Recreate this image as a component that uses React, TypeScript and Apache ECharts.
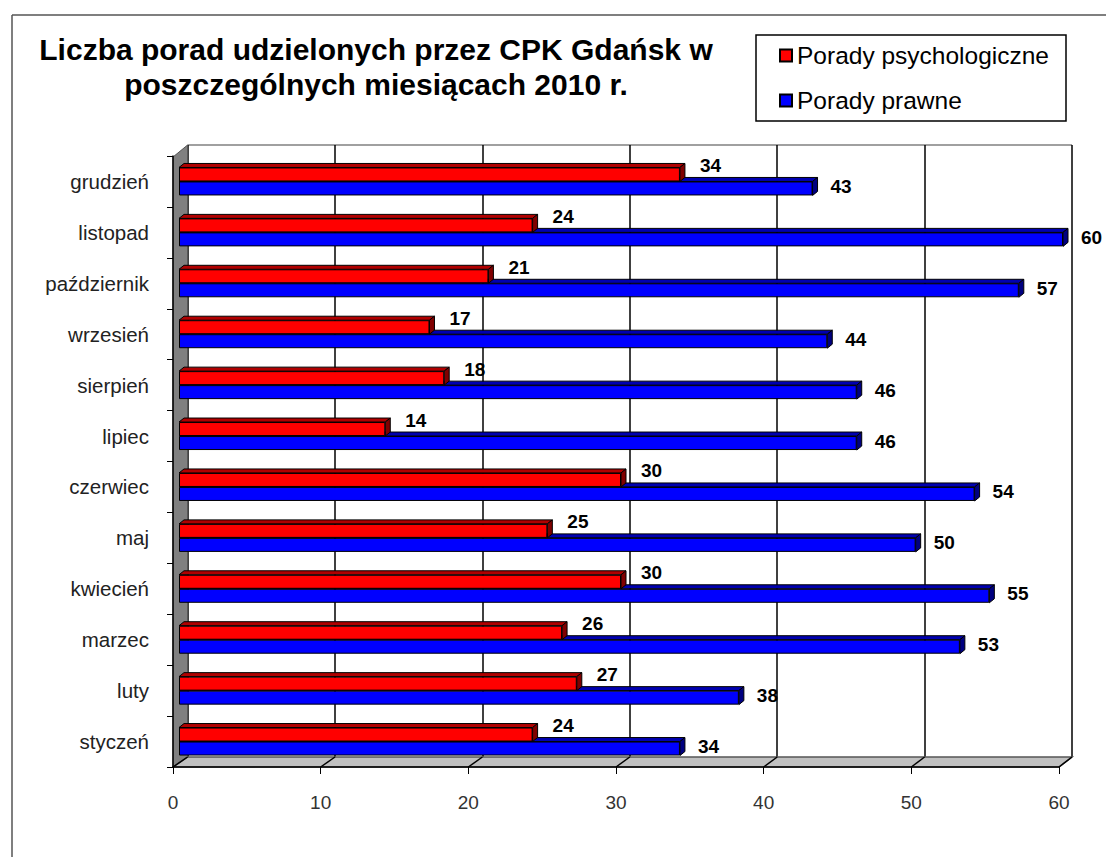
import React, { useEffect, useRef } from "react";
import * as echarts from "echarts";

const months = ["styczeń", "luty", "marzec", "kwiecień", "maj", "czerwiec", "lipiec", "sierpień", "wrzesień", "październik", "listopad", "grudzień"];
const psychValues = [24, 27, 26, 30, 25, 30, 14, 18, 17, 21, 24, 34];
const legalValues = [34, 38, 53, 55, 50, 54, 46, 46, 44, 57, 60, 43];
const seriesNames = ["Porady psychologiczne", "Porady prawne"];
const xMin = 0;
const xMax = 60;
const xInterval = 10;
const xTickValues = [0, 10, 20, 30, 40, 50, 60];

const FONT = '"Liberation Sans", Arial, sans-serif';
const W = 1106;
const H = 857;

// layout (pixels)
const FRONT_L = 173, FRONT_R = 1059, FRONT_B = 767, FRONT_T = 156;
const BACK_L = 187.6, BACK_R = 1072, BACK_B = 757, BACK_T = 145;
const BAR_L = 179, BAR_R = 1063;
const BAR_W = 14;
const DX = 5, DY = 4;

function depthItem(seriesIdx: number, dark: string, darker: string) {
  return (params: any, api: any) => {
    const v = api.value(0);
    const idx = api.value(1);
    const p0 = api.coord([0, idx]);
    const p1 = api.coord([v, idx]);
    const c = p0[1];
    const yTop = seriesIdx === 0 ? c - BAR_W : c;
    const yBot = yTop + BAR_W;
    const x0 = p0[0];
    const x1 = p1[0];
    return {
      type: "group",
      children: [
        {
          type: "polygon",
          shape: { points: [[x0, yTop], [x0 + DX, yTop - DY], [x1 + DX, yTop - DY], [x1, yTop]] },
          style: { fill: dark, stroke: "#000", lineWidth: 1 },
        },
        {
          type: "polygon",
          shape: { points: [[x1, yTop], [x1 + DX, yTop - DY], [x1 + DX, yBot - DY], [x1, yBot]] },
          style: { fill: darker, stroke: "#000", lineWidth: 1 },
        },
      ],
    };
  };
}

export default function App() {
  const ref = useRef<HTMLDivElement>(null);
  useEffect(() => {
    document.body.style.margin = "0";
    const chart = echarts.init(ref.current!, null, { renderer: "svg" });
    const frontX = (v: number) => FRONT_L + ((v - xMin) / (xMax - xMin)) * (FRONT_R - FRONT_L);
    const backX = (v: number) => BACK_L + ((v - xMin) / (xMax - xMin)) * (BACK_R - BACK_L);

    const graphics: any[] = [
      { type: "line", shape: { x1: 12, y1: 15, x2: W, y2: 15 }, style: { stroke: "#555", lineWidth: 1.5 }, z: 0 },
      { type: "line", shape: { x1: 12, y1: 15, x2: 12, y2: H }, style: { stroke: "#555", lineWidth: 1.5 }, z: 0 },
      { type: "line", shape: { x1: BACK_L, y1: BACK_T, x2: BACK_R, y2: BACK_T }, style: { stroke: "#808080", lineWidth: 1.5 }, z: 0 },
      {
        type: "polygon",
        shape: { points: [[FRONT_L, FRONT_T + 1], [BACK_L, BACK_T], [BACK_L, BACK_B], [FRONT_L, FRONT_B]] },
        style: { fill: "#808080", stroke: "#555", lineWidth: 1 },
        z: 1,
      },
      {
        type: "polygon",
        shape: { points: [[FRONT_L, FRONT_B], [BACK_L, BACK_B], [BACK_R, BACK_B], [FRONT_R, FRONT_B]] },
        style: { fill: "#c0c0c0", stroke: "#555", lineWidth: 1.5 },
        z: 1,
      },
      {
        type: "rect",
        shape: { x: 756, y: 35, width: 310, height: 86 },
        style: { fill: "none", stroke: "#000", lineWidth: 1.5 },
        z: 5,
      },
    ];
    xTickValues.forEach((v) => {
      graphics.push({
        type: "line",
        shape: { x1: frontX(v), y1: FRONT_B, x2: backX(v), y2: BACK_B },
        style: { stroke: "#000", lineWidth: 1.5 },
        z: 2,
      });
    });

    chart.setOption({
      animation: false,
      backgroundColor: "#fff",
      title: {
        text: "Liczba porad udzielonych przez CPK Gdańsk w\nposzczególnych miesiącach 2010 r.",
        left: 376,
        top: 32,
        padding: 0,
        textAlign: "center",
        textStyle: { fontFamily: FONT, fontSize: 30, fontWeight: "bold", color: "#000", lineHeight: 35 },
      },
      legend: {
        orient: "vertical",
        left: 779,
        top: 43,
        padding: 0,
        itemWidth: 12,
        itemHeight: 12,
        itemGap: 20,
        icon: "rect",
        textStyle: { fontFamily: FONT, fontSize: 24.5, color: "#000" },
        data: seriesNames,
      },
      grid: [
        { left: BAR_L, right: W - BAR_R, top: FRONT_T, bottom: H - FRONT_B },
        { left: FRONT_L, right: W - FRONT_R, top: FRONT_T, bottom: H - FRONT_B },
        { left: BACK_L, right: W - BACK_R, top: BACK_T, bottom: H - BACK_B },
      ],
      xAxis: [
        { gridIndex: 0, type: "value", min: xMin, max: xMax, interval: xInterval, show: false },
        {
          gridIndex: 1, type: "value", min: xMin, max: xMax, interval: xInterval, z: 3,
          axisLine: { show: true, lineStyle: { color: "#000", width: 1.5 } },
          axisTick: { show: true, length: 7, lineStyle: { color: "#000", width: 1 } },
          axisLabel: { fontFamily: FONT, fontSize: 19, color: "#333", margin: 26 },
          splitLine: { show: false },
        },
        {
          gridIndex: 2, type: "value", min: xMin, max: xMax, interval: xInterval, z: 0,
          axisLine: { show: false }, axisTick: { show: false }, axisLabel: { show: false },
          splitLine: { show: true, lineStyle: { color: "#000", width: 1.5 } },
        },
      ],
      yAxis: [
        {
          gridIndex: 0, type: "category", data: months,
          axisLine: { show: false }, axisTick: { show: false },
          axisLabel: { fontFamily: FONT, fontSize: 20.5, color: "#222", margin: 30 },
        },
        {
          gridIndex: 1, type: "category", data: months, z: 3,
          axisLine: { show: true, lineStyle: { color: "#000", width: 1.5 } },
          axisTick: { show: true, length: 6, lineStyle: { color: "#000" } },
          axisLabel: { show: false },
        },
        { gridIndex: 2, type: "value", show: false, splitLine: { show: false } },
      ],
      graphic: graphics,
      series: [
        {
          name: seriesNames[0],
          type: "bar",
          xAxisIndex: 0,
          yAxisIndex: 0,
          data: psychValues,
          barWidth: BAR_W,
          barGap: "0%",
          z: 4,
          itemStyle: { color: "#ff0000", borderColor: "#000", borderWidth: 1 },
          label: {
            show: true, position: "right", distance: 20, offset: [0, -9],
            fontFamily: FONT, fontSize: 19, fontWeight: "bold", color: "#000",
          },
        },
        {
          name: seriesNames[1],
          type: "bar",
          xAxisIndex: 0,
          yAxisIndex: 0,
          data: legalValues,
          barWidth: BAR_W,
          barGap: "0%",
          z: 4,
          itemStyle: { color: "#0000ff", borderColor: "#000", borderWidth: 1 },
          label: {
            show: true, position: "right", distance: 18, offset: [0, -2],
            fontFamily: FONT, fontSize: 19, fontWeight: "bold", color: "#000",
          },
        },
        {
          type: "custom",
          xAxisIndex: 0,
          yAxisIndex: 0,
          silent: true,
          z: 3,
          data: legalValues.map((v, i) => [v, i]),
          encode: { x: 0, y: 1 },
          renderItem: depthItem(1, "#0000b0", "#000080"),
        },
        {
          type: "custom",
          xAxisIndex: 0,
          yAxisIndex: 0,
          silent: true,
          z: 3,
          data: psychValues.map((v, i) => [v, i]),
          encode: { x: 0, y: 1 },
          renderItem: depthItem(0, "#b00000", "#800000"),
        },
      ],
    });
    return () => chart.dispose();
  }, []);
  return <div ref={ref} style={{ position: "fixed", left: 0, top: 0, width: W, height: H }} />;
}
